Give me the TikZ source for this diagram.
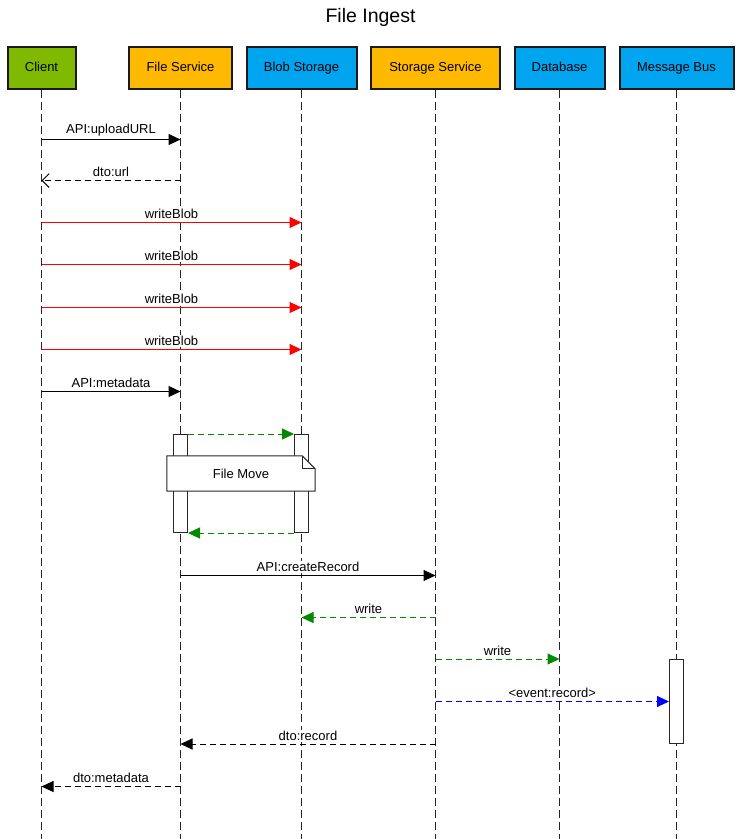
\documentclass[tikz,border=0pt]{standalone}
\usepackage{fontspec}
\setmainfont{Liberation Sans}
\usetikzlibrary{arrows.meta}

\definecolor{actgreen}{HTML}{7FBA00}
\definecolor{actorange}{HTML}{FFB900}
\definecolor{actblue}{HTML}{00A4EF}
\definecolor{msgred}{HTML}{FF0000}
\definecolor{msggreen}{HTML}{008A00}
\definecolor{msgblue}{HTML}{0000FF}

\begin{document}
\begin{tikzpicture}[x=1pt,y=-1pt]
    \tikzset{
        actor/.style={draw=black!90, line width=2pt, minimum height=42pt, inner sep=0pt, text height=9.5pt, text depth=2.5pt, font=\fontsize{13}{15}\selectfont},
        life/.style={black!85, line width=1pt, dash pattern=on 8pt off 4pt},
        act/.style={draw=black!85, fill=white, line width=1pt, minimum width=14pt, inner sep=0pt},
        call/.style={line width=1pt, -{Triangle[length=12pt,width=11pt]}},
        back/.style={call, dash pattern=on 6pt off 4pt},
        openback/.style={back, -{Straight Barb[length=7pt,width=14pt]}},
        lbl/.style={midway, above=2pt, inner sep=1pt, fill=white, font=\fontsize{13}{15}\selectfont, text=black}
    }
    \useasboundingbox (0,0) rectangle (740,839);
    \node[font=\fontsize{19.5}{22}\selectfont] (title) at (370.5,17) {File Ingest};
    \foreach \name/\x/\w/\col/\txt in {client/41.5/68/actgreen/Client, fs/180.5/103/actorange/File Service, blob/301.5/110/actblue/Blob Storage, ss/435.5/129/actorange/Storage Service, db/559.5/90/actblue/Database, mb/676.5/114/actblue/Message Bus}{
        \node[actor, fill=\col, minimum width=\w pt] (\name) at (\x,68) {\txt};
        \coordinate (\name-end) at (\x,839);
        \draw[life] (\name) -- (\name-end);
    }
    \node[act, minimum height=98pt] (fsact) at (180.5,483.5) {};
    \node[act, minimum height=98pt] (blobact) at (301.5,483.5) {};
    \node[act, minimum height=84pt] (mbact) at (676.5,701.5) {};
    \node[minimum width=148pt, minimum height=35pt, inner sep=0pt] (move) at (241,473.5) {};
    \draw[draw=black!85, fill=white, line width=1pt] (move.north west) -- ([xshift=-13pt]move.north east) -- ([yshift=-13pt]move.north east) -- (move.south east) -- (move.south west) -- cycle;
    \draw[black!85, line width=1pt] ([xshift=-13pt]move.north east) -- ([xshift=-13pt,yshift=-13pt]move.north east) -- ([yshift=-13pt]move.north east);
    \node[font=\fontsize{13}{15}\selectfont] (movetxt) at (move) {File Move};

    \draw[call] (client |- 0,139.5) -- (fs |- 0,139.5) node[lbl] {API:uploadURL};
    \draw[openback] (fs |- 0,180.5) -- (client |- 0,180.5) node[lbl] {dto:url};
    \foreach \y in {222.5,264.5,307.5,349.5}{
        \draw[call, msgred] (client |- 0,\y) -- (blob |- 0,\y) node[lbl] {writeBlob};
    }
    \draw[call] (client |- 0,391.5) -- (fs |- 0,391.5) node[lbl] {API:metadata};
    \draw[back, msggreen] (fsact.north east) -- (blobact.north west);
    \draw[back, msggreen] (blobact.south west) -- (fsact.south east);
    \draw[call] (fs |- 0,575.5) -- (ss |- 0,575.5) node[lbl] {API:createRecord};
    \draw[back, msggreen] (ss |- 0,617.5) -- (blob |- 0,617.5) node[lbl] {write};
    \draw[back, msggreen] (ss |- mbact.north) -- (db |- mbact.north) node[lbl] {write};
    \draw[back, msgblue] (ss |- mbact.west) -- (mbact.west) node[lbl] {<event:record>};
    \draw[back] (ss |- mbact.south) -- (fs |- mbact.south) node[lbl] {dto:record};
    \draw[back] (fs |- 0,786.5) -- (client |- 0,786.5) node[lbl] {dto:metadata};
\end{tikzpicture}
\end{document}
